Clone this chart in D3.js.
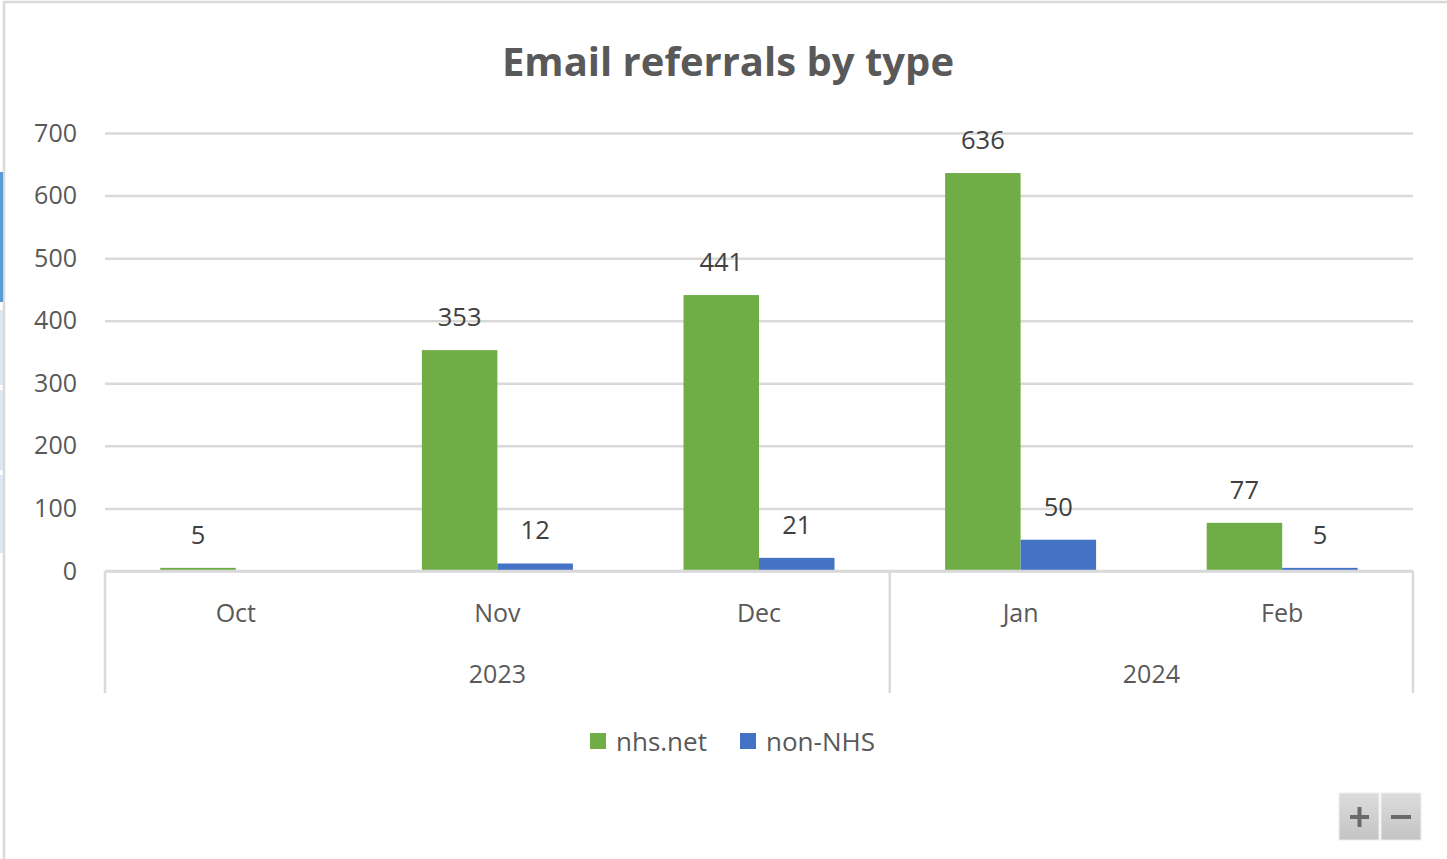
<!DOCTYPE html>
<html><head><meta charset="utf-8">
<script src="https://cdn.jsdelivr.net/npm/d3@7"></script>
<style>body{margin:0;background:#fff;overflow:hidden}svg{display:block}</style>
</head><body>
<script>
const months = ["Oct","Nov","Dec","Jan","Feb"];
const years = [{label:"2023", from:0, to:3},{label:"2024", from:3, to:5}];
const seriesNames = ["nhs.net","non-NHS"];
const nhsNet = [5,353,441,636,77];
const nonNHS = [null,12,21,50,5];
const yTicks = [0,100,200,300,400,500,600,700];
const colors = ["#70AD47","#4472C4"];

const W=1447,H=859;
const svg=d3.select("body").append("svg").attr("width",W).attr("height",H);
const font="'Open Sans', 'Noto Sans', sans-serif";
const txt="#595959";

// frame
svg.append("rect").attr("x",4).attr("y",2).attr("width",W+10).attr("height",H+10)
  .attr("fill","none").attr("stroke","#d9d9d9").attr("stroke-width",2.5);
// left edge artifacts
svg.append("rect").attr("x",0).attr("y",172).attr("width",3).attr("height",130).attr("fill","#5b9bd5");
[[310,385],[390,470],[475,553]].forEach(s=>svg.append("rect").attr("x",0).attr("y",s[0]).attr("width",3).attr("height",s[1]-s[0]).attr("fill","#dde6f3"));

const L=105,R=1413,T=133,B=571;
const y=d3.scaleLinear().domain([0,700]).range([B,T]);
const x=d3.scaleBand().domain(months).range([L,R]).paddingInner(0).paddingOuter(0);
const bw=75.5;
const xs=d3.scaleBand().domain(seriesNames).range([0,bw*2]);

// title
svg.append("text").attr("x",728).attr("y",76).attr("text-anchor","middle")
  .attr("font-family",font).attr("font-weight","bold").attr("font-size",40).attr("fill",txt)
  .text("Email referrals by type");

// gridlines
const yAxis=svg.append("g").attr("transform",`translate(${L},0)`)
  .call(d3.axisLeft(y).tickValues(yTicks).tickSize(-(R-L)).tickFormat(d3.format("d")));
yAxis.select(".domain").remove();
yAxis.selectAll(".tick line").attr("stroke","#d9d9d9").attr("stroke-width",2.5);
yAxis.selectAll(".tick text").attr("x",-28).attr("font-family",font).attr("font-size",25).attr("fill",txt);

// bars
const data=months.map((m,i)=>({m,vals:[nhsNet[i],nonNHS[i]]}));
const g=svg.append("g");
data.forEach(d=>{
  const gx=x(d.m)+(x.bandwidth()-bw*2)/2;
  d.vals.forEach((v,j)=>{
    if(v==null) return;
    const bx=gx+xs(seriesNames[j]);
    g.append("rect").attr("x",bx).attr("y",y(v)).attr("width",xs.bandwidth())
      .attr("height",Math.max(B-y(v),1.5)).attr("fill",colors[j]);
    g.append("text").attr("x",bx+bw/2).attr("y",y(v)-34).attr("text-anchor","middle")
      .attr("dominant-baseline","central")
      .attr("font-family",font).attr("font-size",25.5).attr("fill","#404040").text(v);
  });
});

// category axis
const ax=svg.append("g");
ax.append("line").attr("x1",L).attr("x2",R).attr("y1",B).attr("y2",B).attr("stroke","#d9d9d9").attr("stroke-width",2.5);
const bounds=[0,3,5];
bounds.forEach(b=>{
  const xx=b<months.length?x(months[b]):R;
  ax.append("line").attr("x1",xx).attr("x2",xx).attr("y1",B).attr("y2",693).attr("stroke","#d9d9d9").attr("stroke-width",2.5);
});
months.forEach(m=>{
  ax.append("text").attr("x",x(m)+x.bandwidth()/2).attr("y",612).attr("text-anchor","middle")
    .attr("dominant-baseline","central").attr("font-family",font).attr("font-size",25).attr("fill",txt).text(m);
});
years.forEach(yr=>{
  const x0=x(months[yr.from]);
  const x1=yr.to<months.length?x(months[yr.to]):R;
  ax.append("text").attr("x",(x0+x1)/2).attr("y",673).attr("text-anchor","middle")
    .attr("dominant-baseline","central").attr("font-family",font).attr("font-size",25).attr("fill",txt).text(yr.label);
});

// legend
const leg=svg.append("g");
const legX=[590,740];
seriesNames.forEach((s,i)=>{
  leg.append("rect").attr("x",legX[i]).attr("y",733).attr("width",16).attr("height",16).attr("fill",colors[i]);
  leg.append("text").attr("x",legX[i]+26).attr("y",741).attr("dominant-baseline","central")
    .attr("font-family",font).attr("font-size",26).attr("fill",txt).text(s);
});

// zoom buttons
const defs=svg.append("defs");
const gr=defs.append("linearGradient").attr("id","btn").attr("x1",0).attr("y1",0).attr("x2",0).attr("y2",1);
gr.append("stop").attr("offset","0%").attr("stop-color","#dcdcdc");
gr.append("stop").attr("offset","100%").attr("stop-color","#c4c4c4");
[[1339,"+"],[1381,"−"]].forEach(([bx,s])=>{
  svg.append("rect").attr("x",bx).attr("y",793).attr("width",40).attr("height",47).attr("fill","url(#btn)").attr("stroke","#eeeeee");
});
svg.append("rect").attr("x",1350).attr("y",815).attr("width",19).attr("height",4).attr("fill","#6a6a6a");
svg.append("rect").attr("x",1357.5).attr("y",807).attr("width",4).attr("height",20).attr("fill","#6a6a6a");
svg.append("rect").attr("x",1391).attr("y",815).attr("width",20).attr("height",4).attr("fill","#6a6a6a");
</script>
</body></html>
